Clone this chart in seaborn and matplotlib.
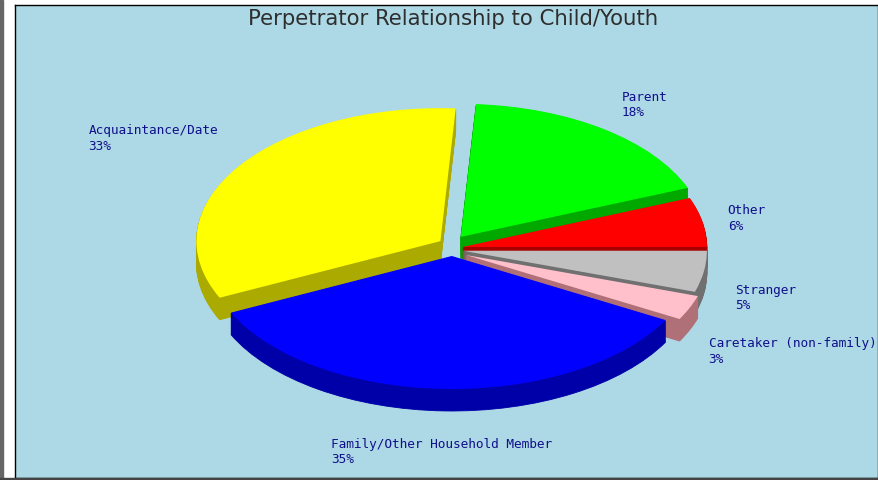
import numpy as np
import matplotlib
matplotlib.use("Agg")
import matplotlib.pyplot as plt
from matplotlib.patches import Rectangle
import seaborn as sns

# ---- data ----
categories = ["Other", "Parent", "Acquaintance/Date", "Family/Other Household Member",
              "Caretaker (non-family)", "Stranger"]
values = [6, 18, 33, 35, 3, 5]
title = "Perpetrator Relationship to Child/Youth"

# ---- styles / layout ----
top_colors = ["#ff0000", "#00ff00", "#ffff00", "#0000ff", "#ffc0cb", "#c0c0c0"]
side_colors = ["#a80000", "#00a800", "#aaaa00", "#0000a8", "#b07078", "#707070"]
explode_px = [11, 15, 14, 7, 15, 11]          # radial explode, in pixels
label_r = [1.23, 1.34, 1.48, 1.36, 1.52, 1.30]  # label distance (in radii)

sns.set_style("white")
plt.rcParams["font.family"] = ["DejaVu Sans"]

W, H = 879, 480
fig = plt.figure(figsize=(W / 100, H / 100), dpi=100, facecolor="white")

# page decorations
fig.patches.append(Rectangle((0, 0), 3 / W, 1, transform=fig.transFigure,
                             color="#666666", zorder=0))
fig.patches.append(Rectangle((0, 0), 1, 2 / H, transform=fig.transFigure,
                             color="#444444", zorder=0))

# plot box (pixels)
bx0, bx1, by_top, by_bot = 15, 878, 5, 478
ax = fig.add_axes([bx0 / W, (H - by_bot) / H, (bx1 - bx0) / W, (by_bot - by_top) / H])

rx, ry = 244.0, 133.0        # pixels per data unit (ellipse radii)
cx_px, cy_px = 452.0, 249.0  # pie centre, pixels from top-left
depth_px = 22

total = float(sum(values))
fr = np.array(values) / total
ends = np.cumsum(fr) * 360.0
starts = ends - fr * 360.0
mids = np.deg2rad((starts + ends) / 2.0)
offsets = [(e * np.cos(m) / rx, e * np.sin(m) / ry) for e, m in zip(explode_px, mids)]


def layer(colors, yshift, lw):
    wedges, _ = ax.pie(values, colors=colors, startangle=0, counterclock=True,
                       radius=1, center=(0, yshift),
                       wedgeprops=dict(linewidth=lw, edgecolor=None))
    for w, c, (dx, dy) in zip(wedges, colors, offsets):
        w.set_center((w.center[0] + dx, w.center[1] + dy))
        if lw > 0:
            w.set_edgecolor(c)
    return wedges


for k in range(depth_px, 0, -1):
    layer(side_colors, -k / ry, 0.6)
layer(top_colors, 0.0, 0)

# axes geometry (data units)
ax.set_aspect("auto")
ax.set_xlim(-(cx_px - bx0) / rx, (bx1 - cx_px) / rx)
ax.set_ylim(-(by_bot - cy_px) / ry, (cy_px - by_top) / ry)
ax.set_facecolor("#add8e6")
ax.set_frame_on(True)
for s in ax.spines.values():
    s.set_visible(True)
    s.set_color("black")
    s.set_linewidth(1.0)
ax.set_xticks([])
ax.set_yticks([])

# labels
for cat, v, m, r in zip(categories, values, mids, label_r):
    x = r * np.cos(m)
    y = r * np.sin(m)
    if np.sin(m) < 0:
        y -= depth_px / ry
    ax.text(x, y, f"{cat}\n{v / total * 100:.0f}%", ha="center", va="center",
            multialignment="left", family="DejaVu Sans Mono", fontsize=9.2,
            color="#10108a", linespacing=1.25)

fig.text(453 / W, 1 - 19 / H, title, ha="center", va="center",
         fontsize=15.3, color="#2e2e2e")

fig.savefig("out.png", dpi=100, facecolor="white")
